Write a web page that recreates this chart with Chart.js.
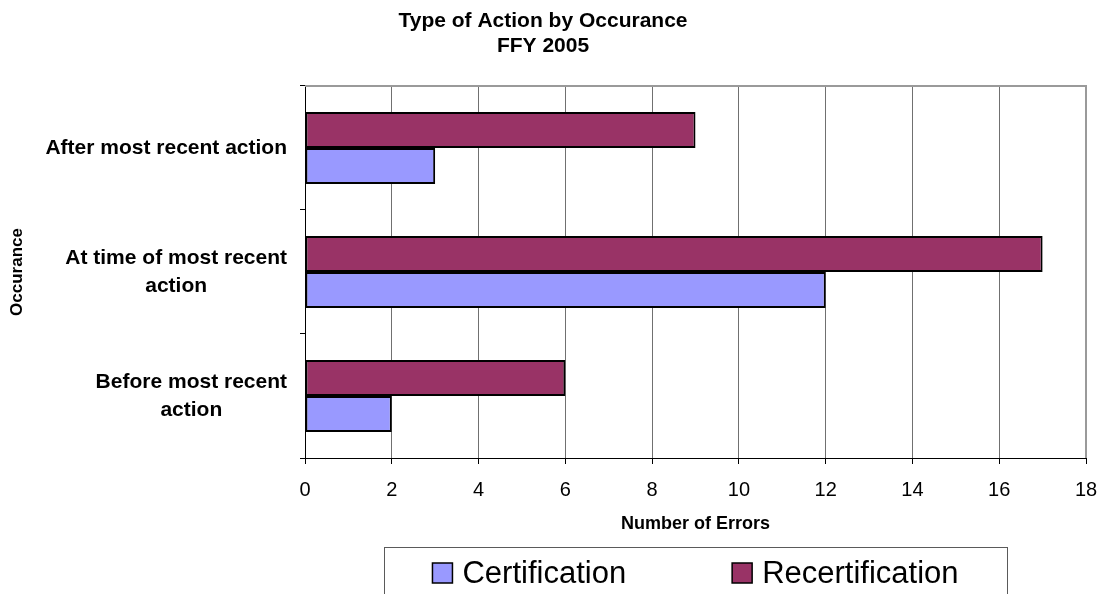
<!DOCTYPE html>
<html>
<head>
<meta charset="utf-8">
<script src="https://cdn.jsdelivr.net/npm/chart.js@4.4.1/dist/chart.umd.min.js"></script>
<style>
  html, body { margin: 0; padding: 0; background: #ffffff; }
  canvas { display: block; }
</style>
</head>
<body>
<canvas id="chart" width="1104" height="594"></canvas>
<script>
// Occurrence categories, top to bottom
const categories = [
  'After most recent action',
  ['At time of most recent', 'action'],
  ['Before most recent', 'action']
];
const certification = [3, 12, 2];
const recertification = [9, 17, 6];
const errorTicks = [0, 2, 4, 6, 8, 10, 12, 14, 16, 18];
const chartTitle = ['Type of Action by Occurance', 'FFY 2005'];
const xAxisTitle = 'Number of Errors';
const yAxisTitle = 'Occurance';

const FONT = '"Liberation Sans", Arial, Helvetica, sans-serif';
Chart.defaults.font.family = FONT;
Chart.defaults.color = '#000000';

// Light gray frame on the top and right edges of the plot area
const plotFrame = {
  id: 'plotFrame',
  afterDatasetsDraw(chart) {
    const { ctx, chartArea: a } = chart;
    ctx.save();
    ctx.strokeStyle = '#9a9a9a';
    ctx.lineWidth = 2;
    ctx.beginPath();
    ctx.moveTo(a.left, a.top);
    ctx.lineTo(a.right, a.top);
    ctx.lineTo(a.right, a.bottom);
    ctx.stroke();
    ctx.restore();
  }
};

// Right-align each category label block, centring its lines within the block
const blockLabels = {
  id: 'blockLabels',
  beforeDraw(chart) {
    const s = chart.scales.y;
    const items = s.getLabelItems(chart.chartArea);
    const edge = s.right - s.options.grid.tickLength - s.options.ticks.padding;
    const ctx = chart.ctx;
    items.forEach(it => {
      const lines = Array.isArray(it.label) ? it.label : [it.label];
      ctx.save();
      ctx.font = it.font.string;
      const w = Math.max(...lines.map(l => ctx.measureText(l).width));
      ctx.restore();
      it.options.textAlign = 'center';
      it.options.translation[0] = edge - w / 2;
    });
  }
};

// Boxed legend under the axis title
const boxLegend = {
  id: 'boxLegend',
  afterDraw(chart, args, opts) {
    const { ctx, chartArea: a } = chart;
    const cx = (a.left + a.right) / 2;
    const left = cx - opts.width / 2;
    ctx.save();
    ctx.strokeStyle = '#5a5a5a';
    ctx.lineWidth = 1;
    ctx.strokeRect(Math.round(left) + 0.5, opts.top + 0.5, opts.width, chart.height);

    ctx.font = opts.fontSize + 'px ' + FONT;
    const entries = opts.order.map(i => chart.data.datasets[i]);
    const widths = entries.map(d => opts.box + opts.textGap + ctx.measureText(d.label).width);
    const total = widths.reduce((p, w) => p + w, 0) + opts.itemGap * (entries.length - 1);
    let x = cx - total / 2;
    const midY = opts.top + opts.rowCenter;
    entries.forEach((d, i) => {
      ctx.fillStyle = d.backgroundColor;
      ctx.fillRect(x, midY - opts.box / 2, opts.box, opts.box);
      ctx.strokeStyle = '#000000';
      ctx.lineWidth = 1.5;
      ctx.strokeRect(x, midY - opts.box / 2, opts.box, opts.box);
      ctx.fillStyle = '#000000';
      ctx.textAlign = 'left';
      ctx.textBaseline = 'middle';
      ctx.fillText(d.label, x + opts.box + opts.textGap, midY + 1);
      x += widths[i] + opts.itemGap;
    });
    ctx.restore();
  }
};

new Chart(document.getElementById('chart'), {
  type: 'bar',
  data: {
    labels: categories,
    datasets: [
      {
        label: 'Recertification',
        data: recertification,
        backgroundColor: '#993366',
        borderColor: '#000000',
        borderWidth: 2,
        borderSkipped: false,
        categoryPercentage: 0.58,
        barPercentage: 1.0
      },
      {
        label: 'Certification',
        data: certification,
        backgroundColor: '#9999ff',
        borderColor: '#000000',
        borderWidth: 2,
        borderSkipped: false,
        categoryPercentage: 0.58,
        barPercentage: 1.0
      }
    ]
  },
  options: {
    indexAxis: 'y',
    responsive: false,
    devicePixelRatio: 1,
    animation: false,
    layout: { padding: { left: 0, right: 18, top: 0, bottom: 47 } },
    plugins: {
      legend: { display: false },
      tooltip: { enabled: false },
      title: {
        display: true,
        text: chartTitle,
        color: '#000000',
        font: { size: 21, weight: 'bold', lineHeight: 1.19 },
        padding: { top: 9, bottom: 27 }
      },
      boxLegend: {
        top: 547,
        width: 623,
        fontSize: 31,
        box: 20,
        textGap: 10,
        itemGap: 106,
        rowCenter: 26,
        order: [1, 0]
      }
    },
    scales: {
      x: {
        type: 'linear',
        min: 0,
        max: 18,
        afterBuildTicks(s) { s.ticks = errorTicks.map(v => ({ value: v })); },
        afterFit(s) {
          s.height = 89;
          s.paddingLeft = 0;
          s.paddingRight = 0;
        },
        ticks: { font: { size: 20 }, color: '#000000', padding: 14 },
        grid: { color: '#707070', tickColor: '#000000', tickLength: 6, lineWidth: 1 },
        border: { color: '#000000', width: 1 },
        title: {
          display: true,
          text: xAxisTitle,
          color: '#000000',
          font: { size: 18, weight: 'bold' },
          padding: { top: 0, bottom: 12 }
        }
      },
      y: {
        afterFit(s) { s.width = 305; },
        ticks: { font: { size: 21, weight: 'bold', lineHeight: 1.33 }, color: '#000000', padding: 13 },
        grid: { drawOnChartArea: false, offset: true, color: '#000000', tickLength: 5 },
        border: { color: '#000000', width: 1 },
        title: {
          display: true,
          text: yAxisTitle,
          color: '#000000',
          font: { size: 17, weight: 'bold' },
          padding: { top: 7, bottom: 0 }
        }
      }
    }
  },
  plugins: [plotFrame, blockLabels, boxLegend]
});
</script>
</body>
</html>
